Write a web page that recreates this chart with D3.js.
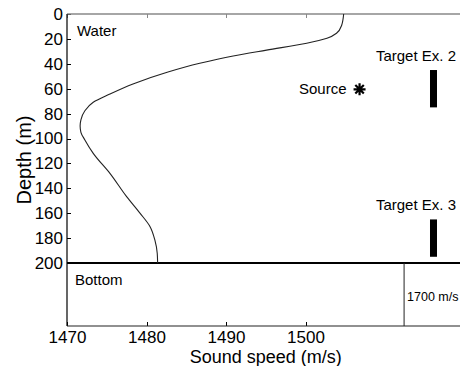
<!DOCTYPE html>
<html lang="en">
<head>
<meta charset="UTF-8">
<title>Sound speed profile</title>
<style>
    body { margin: 0; background: #ffffff; }
    svg text { font-family: "Liberation Sans", Arial, sans-serif; fill: #000; }
    .axis text { font-size: 17px; }
    .axis line { stroke: #000; shape-rendering: crispEdges; }
    .axis path { display: none; }
    .top line { stroke: #888; }
</style>
<script src="https://cdn.jsdelivr.net/npm/d3@7"></script>
</head>
<body>
<div id="chart"></div>
<script>
    // sound speed profile
    var depths = [0, 9, 15.5, 19.5, 23.5, 29, 33.7, 39.6, 46.8, 56.2, 64.3, 70.9, 77.7, 85, 90, 95, 101.2, 111.9, 128, 146.7, 160.1, 170.8, 181.5, 192.2, 200];
    var speeds = [1504.8, 1504.55, 1503.9, 1502.7, 1500.15, 1495.1, 1490.9, 1486.7, 1482.6, 1478.3, 1475.4, 1473.3, 1472.25, 1471.75, 1471.65, 1471.75, 1472.25, 1473.3, 1475.4, 1477.5, 1479.2, 1480.45, 1481.05, 1481.35, 1481.4];

    var depthTicks = [0, 20, 40, 60, 80, 100, 120, 140, 160, 180, 200];
    var speedTicks = [1470, 1480, 1490, 1500];

    // scene objects (speed axis position, depth)
    var source = {name: "Source", speed: 1506.8, depth: 60.5};
    var targets = [
        {name: "Target Ex. 2", speed: 1516.1, top: 45, bottom: 75},
        {name: "Target Ex. 3", speed: 1516.1, top: 165, bottom: 195}
    ];
    var bottomSpeedLabel = "1700 m/s";
    var bottomMarkAt = 1512.4;

    var width = 460, height = 366;
    var bottomY = 326;

    var x = d3.scaleLinear().domain([1470, 1520]).range([67, 464.5]);
    var y = d3.scaleLinear().domain([0, 200]).range([14, 263]);

    var svg = d3.select("#chart").append("svg")
        .attr("width", width)
        .attr("height", height);

    // axes with inward ticks
    svg.append("g").attr("class", "axis")
        .attr("transform", "translate(" + x(1470) + ",0)")
        .call(d3.axisLeft(y).tickValues(depthTicks).tickSize(-4).tickPadding(4));

    svg.append("g").attr("class", "axis")
        .attr("transform", "translate(0," + bottomY + ")")
        .call(d3.axisBottom(x).tickValues(speedTicks).tickFormat(d3.format("d")).tickSize(-4).tickPadding(5));

    svg.append("g").attr("class", "axis top")
        .attr("transform", "translate(0," + y(0) + ")")
        .call(d3.axisTop(x).tickValues(speedTicks).tickSize(-4).tickFormat(""));

    svg.append("g").attr("class", "axis")
        .attr("transform", "translate(" + x(1520) + ",0)")
        .call(d3.axisRight(y).tickValues(depthTicks).tickSize(-5).tickFormat(""));

    // frame
    svg.append("line")
        .attr("x1", x(1470)).attr("x2", x(1520))
        .attr("y1", y(0)).attr("y2", y(0))
        .attr("stroke", "#888").attr("stroke-width", 1.5);
    svg.append("line")
        .attr("x1", x(1470)).attr("x2", x(1470))
        .attr("y1", y(0)).attr("y2", bottomY)
        .attr("stroke", "#000").attr("stroke-width", 1.2);
    svg.append("line")
        .attr("x1", x(1470)).attr("x2", x(1520))
        .attr("y1", bottomY).attr("y2", bottomY)
        .attr("stroke", "#222").attr("stroke-width", 1.2);

    // sea bed
    svg.append("line")
        .attr("x1", x(1470)).attr("x2", x(1520))
        .attr("y1", y(200)).attr("y2", y(200))
        .attr("stroke", "#000").attr("stroke-width", 2.2);
    svg.append("line")
        .attr("x1", x(bottomMarkAt)).attr("x2", x(bottomMarkAt))
        .attr("y1", y(200)).attr("y2", bottomY)
        .attr("stroke", "#222").attr("stroke-width", 1);

    // profile
    var profile = depths.map(function (d, i) { return [speeds[i], d]; });
    svg.append("path")
        .datum(profile)
        .attr("fill", "none")
        .attr("stroke", "#222")
        .attr("stroke-width", 1.1)
        .attr("d", d3.line()
            .x(function (d) { return x(d[0]); })
            .y(function (d) { return y(d[1]); })
            .curve(d3.curveMonotoneY));

    // targets
    svg.selectAll(".target").data(targets).enter().append("rect")
        .attr("class", "target")
        .attr("x", function (d) { return x(d.speed) - 3.5; })
        .attr("y", function (d) { return y(d.top); })
        .attr("width", 7)
        .attr("height", function (d) { return y(d.bottom) - y(d.top); })
        .attr("fill", "#000");
    svg.selectAll(".tlabel").data(targets).enter().append("text")
        .attr("class", "tlabel")
        .attr("x", function (d) { return x(d.speed) + 22.5; })
        .attr("y", function (d) { return y(d.top) - 9.5; })
        .attr("text-anchor", "end")
        .style("font-size", "15px")
        .text(function (d) { return d.name; });

    // source
    var sx = x(source.speed), sy = y(source.depth), r = 6;
    var star = d3.path();
    for (var k = 0; k < 4; k++) {
        var a = k * Math.PI / 4;
        star.moveTo(sx - r * Math.cos(a), sy - r * Math.sin(a));
        star.lineTo(sx + r * Math.cos(a), sy + r * Math.sin(a));
    }
    svg.append("path").attr("d", star.toString())
        .attr("stroke", "#000").attr("stroke-width", 2.2);
    svg.append("text")
        .attr("x", sx - 13).attr("y", sy + 4.4)
        .attr("text-anchor", "end")
        .style("font-size", "15px")
        .text(source.name);

    // region labels
    svg.append("text")
        .attr("x", x(1470) + 10).attr("y", y(0) + 21.5)
        .style("font-size", "15px").text("Water");
    svg.append("text")
        .attr("x", x(1470) + 8).attr("y", y(200) + 21.5)
        .style("font-size", "15px").text("Bottom");
    svg.append("text")
        .attr("x", x(bottomMarkAt) + 3).attr("y", 301)
        .style("font-size", "12.5px").text(bottomSpeedLabel);

    // axis titles
    svg.append("text")
        .attr("x", (x(1470) + x(1520)) / 2).attr("y", 363)
        .attr("text-anchor", "middle")
        .style("font-size", "18px")
        .text("Sound speed (m/s)");
    svg.append("text")
        .attr("transform", "translate(31,160) rotate(-90)")
        .attr("text-anchor", "middle")
        .style("font-size", "20px")
        .text("Depth (m)");
</script>
</body>
</html>
